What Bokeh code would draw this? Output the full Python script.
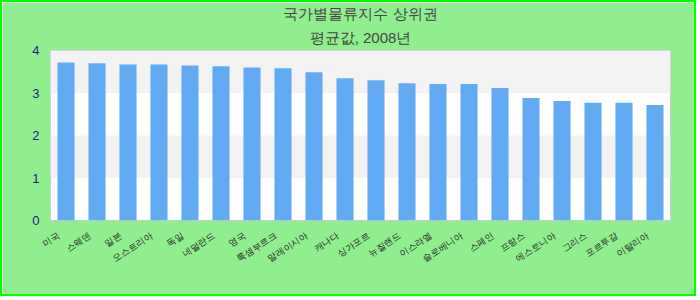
import math
from bokeh.plotting import figure
from bokeh.models import Range1d, FixedTicker, Title, LinearAxis
from bokeh.embed import file_html
from bokeh.resources import INLINE

title_line1 = "국가별물류지수 상위권"
title_line2 = "평균값, 2008년"

categories = ["미국", "스웨덴", "일본", "오스트리아", "독일", "네덜란드", "영국",
              "룩셈부르크", "말레이시아", "캐나다", "싱가포르", "뉴질랜드", "이스라엘",
              "슬로베니아", "스페인", "프랑스", "에스토니아", "그리스", "포르투갈", "이탈리아"]
values = [3.72, 3.70, 3.67, 3.67, 3.65, 3.63, 3.60, 3.58, 3.49, 3.35,
          3.30, 3.23, 3.21, 3.21, 3.12, 2.88, 2.81, 2.77, 2.77, 2.72]
y_ticks = [0, 1, 2, 3, 4]

n = len(categories)
positions = list(range(1, n + 1))
label_shift = 0.24  # label anchor sits a little left of each bar centre

p = figure(width=696, height=296, output_backend="svg", toolbar_location=None,
           x_range=Range1d(0.5, n + 0.5),
           y_range=Range1d(0, 4),
           min_border_left=48, min_border_right=28, min_border_top=46, min_border_bottom=78,
           x_axis_location=None)
p.styles = {"border": "2px solid #00ff00"}

p.border_fill_color = "#90ee90"
p.background_fill_color = "#ffffff"
p.outline_line_color = "#cccccc"

for txt, standoff in [(title_line2, 10), (title_line1, 0)]:
    p.add_layout(Title(text=txt, align="center", text_font="Liberation Sans",
                       text_font_size="15px", text_font_style="normal",
                       text_color="#444444", standoff=standoff), "above")

p.vbar(x=positions, top=values, width=0.55, color="#63aaf5", line_color=None)

p.ygrid.ticker = FixedTicker(ticks=y_ticks)
p.ygrid.grid_line_color = None
p.ygrid.band_fill_color = "#f3f3f3"
p.ygrid.band_fill_alpha = 1.0
p.xgrid.grid_line_color = None

p.yaxis.ticker = FixedTicker(ticks=y_ticks)
p.yaxis.axis_line_color = None
p.yaxis.major_tick_line_color = None
p.yaxis.minor_tick_line_color = None
p.yaxis.major_label_text_font = "Liberation Sans"
p.yaxis.major_label_text_font_size = "13px"
p.yaxis.major_label_text_color = "#1c1c8a"
p.yaxis.major_label_standoff = 5

p.extra_x_ranges = {"labels": Range1d(0.5 + label_shift, n + 0.5 + label_shift)}
xax = LinearAxis(x_range_name="labels", ticker=FixedTicker(ticks=positions),
                 major_label_overrides={i: c for i, c in zip(positions, categories)})
xax.axis_line_color = None
xax.major_tick_line_color = None
xax.minor_tick_line_color = None
xax.major_label_orientation = math.radians(33)
xax.major_label_text_font_size = "9px"
xax.major_label_text_color = "#222222"
xax.major_label_standoff = 8
p.add_layout(xax, "below")

open("out.html", "w").write(file_html(p, INLINE))
